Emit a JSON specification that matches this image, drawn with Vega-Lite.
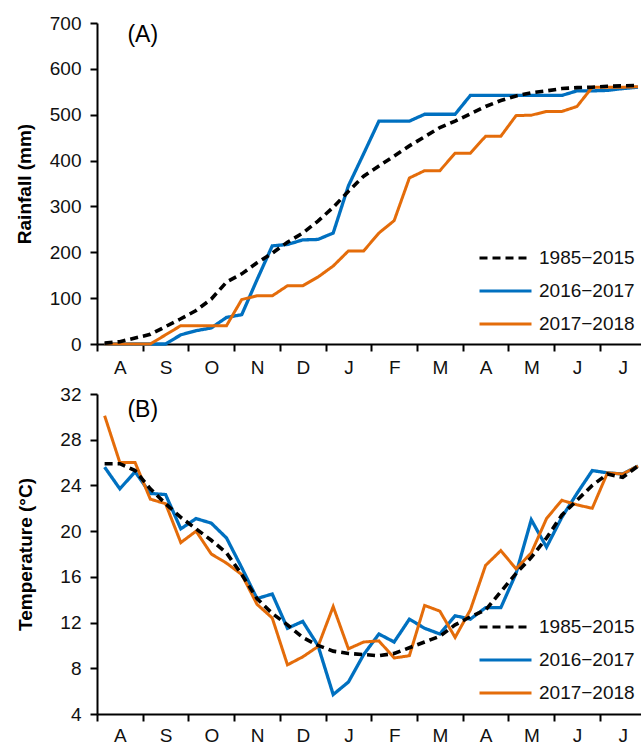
{
  "$schema": "https://vega.github.io/schema/vega-lite/v6.json",
  "padding": {"left": 15, "top": 14, "right": 0, "bottom": 0},
  "background": "white",
  "spacing": 8,
  "config": {
    "font": "Liberation Sans",
    "view": {"stroke": null},
    "axis": {"domainColor": "#000", "domainWidth": 2, "tickColor": "#000", "tickWidth": 2, "tickSize": 7, "labelColor": "#111", "labelFontSize": 19, "labelFont": "Liberation Sans", "titleFont": "Liberation Sans", "titleFontSize": 19, "titleFontWeight": "bold", "titleColor": "#000", "grid": false},
    "legend": {"symbolType": "stroke", "symbolSize": 2704, "symbolStrokeWidth": 3, "labelFontSize": 19, "labelColor": "#111", "labelFont": "Liberation Sans", "clipHeight": 20, "rowPadding": 13, "labelOffset": 6, "padding": 0}
  },
  "datasets": {
    "d": [
      {"series":"2016−2017","dekad":1,"rainfall":0,"temperature":25.6},
      {"series":"2016−2017","dekad":2,"rainfall":0,"temperature":23.7},
      {"series":"2016−2017","dekad":3,"rainfall":0,"temperature":25.2},
      {"series":"2016−2017","dekad":4,"rainfall":0,"temperature":23.3},
      {"series":"2016−2017","dekad":5,"rainfall":0,"temperature":23.2},
      {"series":"2016−2017","dekad":6,"rainfall":20,"temperature":20.2},
      {"series":"2016−2017","dekad":7,"rainfall":29,"temperature":21.1},
      {"series":"2016−2017","dekad":8,"rainfall":35,"temperature":20.7},
      {"series":"2016−2017","dekad":9,"rainfall":58,"temperature":19.4},
      {"series":"2016−2017","dekad":10,"rainfall":64,"temperature":16.8},
      {"series":"2016−2017","dekad":11,"rainfall":140,"temperature":14.1},
      {"series":"2016−2017","dekad":12,"rainfall":214,"temperature":14.5},
      {"series":"2016−2017","dekad":13,"rainfall":217,"temperature":11.5},
      {"series":"2016−2017","dekad":14,"rainfall":227,"temperature":12.1},
      {"series":"2016−2017","dekad":15,"rainfall":228,"temperature":10.0},
      {"series":"2016−2017","dekad":16,"rainfall":242,"temperature":5.7},
      {"series":"2016−2017","dekad":17,"rainfall":345,"temperature":6.8},
      {"series":"2016−2017","dekad":18,"rainfall":415,"temperature":9.2},
      {"series":"2016−2017","dekad":19,"rainfall":486,"temperature":11.0},
      {"series":"2016−2017","dekad":20,"rainfall":486,"temperature":10.3},
      {"series":"2016−2017","dekad":21,"rainfall":486,"temperature":12.3},
      {"series":"2016−2017","dekad":22,"rainfall":501,"temperature":11.5},
      {"series":"2016−2017","dekad":23,"rainfall":501,"temperature":11.0},
      {"series":"2016−2017","dekad":24,"rainfall":501,"temperature":12.6},
      {"series":"2016−2017","dekad":25,"rainfall":542,"temperature":12.3},
      {"series":"2016−2017","dekad":26,"rainfall":542,"temperature":13.3},
      {"series":"2016−2017","dekad":27,"rainfall":542,"temperature":13.3},
      {"series":"2016−2017","dekad":28,"rainfall":542,"temperature":16.3},
      {"series":"2016−2017","dekad":29,"rainfall":542,"temperature":21.0},
      {"series":"2016−2017","dekad":30,"rainfall":542,"temperature":18.6},
      {"series":"2016−2017","dekad":31,"rainfall":542,"temperature":21.2},
      {"series":"2016−2017","dekad":32,"rainfall":552,"temperature":23.3},
      {"series":"2016−2017","dekad":33,"rainfall":552,"temperature":25.3},
      {"series":"2016−2017","dekad":34,"rainfall":553,"temperature":25.1},
      {"series":"2016−2017","dekad":35,"rainfall":557,"temperature":25.0},
      {"series":"2016−2017","dekad":36,"rainfall":560,"temperature":25.7},
      {"series":"2017−2018","dekad":1,"rainfall":0,"temperature":30.1},
      {"series":"2017−2018","dekad":2,"rainfall":0,"temperature":26.0},
      {"series":"2017−2018","dekad":3,"rainfall":0,"temperature":26.0},
      {"series":"2017−2018","dekad":4,"rainfall":0,"temperature":22.8},
      {"series":"2017−2018","dekad":5,"rainfall":20,"temperature":22.4},
      {"series":"2017−2018","dekad":6,"rainfall":40,"temperature":19.0},
      {"series":"2017−2018","dekad":7,"rainfall":40,"temperature":20.0},
      {"series":"2017−2018","dekad":8,"rainfall":40,"temperature":18.0},
      {"series":"2017−2018","dekad":9,"rainfall":40,"temperature":17.2},
      {"series":"2017−2018","dekad":10,"rainfall":97,"temperature":16.2},
      {"series":"2017−2018","dekad":11,"rainfall":105,"temperature":13.6},
      {"series":"2017−2018","dekad":12,"rainfall":105,"temperature":12.4},
      {"series":"2017−2018","dekad":13,"rainfall":127,"temperature":8.3},
      {"series":"2017−2018","dekad":14,"rainfall":127,"temperature":9.0},
      {"series":"2017−2018","dekad":15,"rainfall":146,"temperature":9.9},
      {"series":"2017−2018","dekad":16,"rainfall":170,"temperature":13.4},
      {"series":"2017−2018","dekad":17,"rainfall":203,"temperature":9.7},
      {"series":"2017−2018","dekad":18,"rainfall":203,"temperature":10.3},
      {"series":"2017−2018","dekad":19,"rainfall":242,"temperature":10.4},
      {"series":"2017−2018","dekad":20,"rainfall":269,"temperature":8.9},
      {"series":"2017−2018","dekad":21,"rainfall":362,"temperature":9.1},
      {"series":"2017−2018","dekad":22,"rainfall":378,"temperature":13.5},
      {"series":"2017−2018","dekad":23,"rainfall":378,"temperature":13.0},
      {"series":"2017−2018","dekad":24,"rainfall":416,"temperature":10.7},
      {"series":"2017−2018","dekad":25,"rainfall":416,"temperature":13.1},
      {"series":"2017−2018","dekad":26,"rainfall":453,"temperature":17.0},
      {"series":"2017−2018","dekad":27,"rainfall":453,"temperature":18.3},
      {"series":"2017−2018","dekad":28,"rainfall":498,"temperature":16.7},
      {"series":"2017−2018","dekad":29,"rainfall":499,"temperature":18.1},
      {"series":"2017−2018","dekad":30,"rainfall":507,"temperature":21.1},
      {"series":"2017−2018","dekad":31,"rainfall":507,"temperature":22.7},
      {"series":"2017−2018","dekad":32,"rainfall":518,"temperature":22.3},
      {"series":"2017−2018","dekad":33,"rainfall":560,"temperature":22.0},
      {"series":"2017−2018","dekad":34,"rainfall":560,"temperature":25.1},
      {"series":"2017−2018","dekad":35,"rainfall":560,"temperature":25.0},
      {"series":"2017−2018","dekad":36,"rainfall":561,"temperature":25.7},
      {"series":"1985−2015","dekad":1,"rainfall":2,"temperature":25.9},
      {"series":"1985−2015","dekad":2,"rainfall":5,"temperature":25.9},
      {"series":"1985−2015","dekad":3,"rainfall":13,"temperature":25.3},
      {"series":"1985−2015","dekad":4,"rainfall":21,"temperature":23.7},
      {"series":"1985−2015","dekad":5,"rainfall":38,"temperature":22.4},
      {"series":"1985−2015","dekad":6,"rainfall":55,"temperature":21.2},
      {"series":"1985−2015","dekad":7,"rainfall":73,"temperature":20.2},
      {"series":"1985−2015","dekad":8,"rainfall":98,"temperature":19.2},
      {"series":"1985−2015","dekad":9,"rainfall":135,"temperature":18.1},
      {"series":"1985−2015","dekad":10,"rainfall":153,"temperature":16.2},
      {"series":"1985−2015","dekad":11,"rainfall":177,"temperature":14.1},
      {"series":"1985−2015","dekad":12,"rainfall":198,"temperature":12.8},
      {"series":"1985−2015","dekad":13,"rainfall":222,"temperature":11.8},
      {"series":"1985−2015","dekad":14,"rainfall":242,"temperature":10.7},
      {"series":"1985−2015","dekad":15,"rainfall":268,"temperature":10.0},
      {"series":"1985−2015","dekad":16,"rainfall":298,"temperature":9.5},
      {"series":"1985−2015","dekad":17,"rainfall":333,"temperature":9.3},
      {"series":"1985−2015","dekad":18,"rainfall":366,"temperature":9.2},
      {"series":"1985−2015","dekad":19,"rainfall":388,"temperature":9.1},
      {"series":"1985−2015","dekad":20,"rainfall":410,"temperature":9.3},
      {"series":"1985−2015","dekad":21,"rainfall":432,"temperature":9.8},
      {"series":"1985−2015","dekad":22,"rainfall":452,"temperature":10.3},
      {"series":"1985−2015","dekad":23,"rainfall":472,"temperature":10.8},
      {"series":"1985−2015","dekad":24,"rainfall":486,"temperature":11.8},
      {"series":"1985−2015","dekad":25,"rainfall":502,"temperature":12.5},
      {"series":"1985−2015","dekad":26,"rainfall":518,"temperature":13.1},
      {"series":"1985−2015","dekad":27,"rainfall":531,"temperature":14.7},
      {"series":"1985−2015","dekad":28,"rainfall":541,"temperature":16.3},
      {"series":"1985−2015","dekad":29,"rainfall":548,"temperature":17.7},
      {"series":"1985−2015","dekad":30,"rainfall":552,"temperature":19.4},
      {"series":"1985−2015","dekad":31,"rainfall":557,"temperature":21.4},
      {"series":"1985−2015","dekad":32,"rainfall":559,"temperature":22.7},
      {"series":"1985−2015","dekad":33,"rainfall":560,"temperature":24.0},
      {"series":"1985−2015","dekad":34,"rainfall":562,"temperature":25.0},
      {"series":"1985−2015","dekad":35,"rainfall":563,"temperature":24.7},
      {"series":"1985−2015","dekad":36,"rainfall":564,"temperature":25.7}
    ]
  },
  "vconcat": [
    {
      "width": 544,
      "height": 321,
      "layer": [
        {
          "data": {"name": "d"},
          "mark": {"type": "line"},
          "encoding": {
            "x": {"field": "dekad", "type": "quantitative", "scale": {"domain": [0.5, 36.2], "nice": false, "zero": false},
                  "axis": {"title": null, "values": [0.5,3.5,6.5,9.5,12.5,15.5,18.5,21.5,24.5,27.5,30.5,33.5],
                           "labelExpr": "substring('ASONDJFMAMJJ', round((datum.value - 0.5) / 3), round((datum.value - 0.5) / 3) + 1)",
                           "labelOffset": 22.9, "labelAlign": "center",
                           "labelOverlap": false, "labelBound": false, "labelFlush": false, "labelPadding": 7}},
            "y": {"field": "rainfall", "type": "quantitative", "scale": {"domain": [0, 700], "nice": false},
                  "axis": {"title": "Rainfall (mm)", "values": [0,100,200,300,400,500,600,700], "titlePadding": 15, "labelPadding": 9}},
            "color": {"field": "series", "type": "nominal",
                      "scale": {"domain": ["1985−2015", "2016−2017", "2017−2018"], "range": ["#000000", "#0070C0", "#E46C0A"]},
                      "legend": {"title": null, "orient": "none", "legendX": 381, "legendY": 225}},
            "strokeDash": {"field": "series", "type": "nominal",
                           "scale": {"domain": ["1985−2015", "2016−2017", "2017−2018"], "range": [[8, 5], [1, 0], [1, 0]]},
                           "legend": {"title": null, "orient": "none", "legendX": 381, "legendY": 225}},
            "strokeWidth": {"field": "series", "type": "nominal",
                            "scale": {"domain": ["1985−2015", "2016−2017", "2017−2018"], "range": [3.6, 3, 3]}, "legend": null}
          }
        },
        {
          "data": {"values": [{"panel": "(A)", "px": 3.5, "py": 673}]},
          "mark": {"type": "text", "fontSize": 23, "font": "Liberation Sans", "color": "#000"},
          "encoding": {"x": {"field": "px", "type": "quantitative"}, "y": {"field": "py", "type": "quantitative"}, "text": {"field": "panel"}}
        }
      ]
    },
    {
      "width": 544,
      "height": 320,
      "layer": [
        {
          "data": {"name": "d"},
          "mark": {"type": "line"},
          "encoding": {
            "x": {"field": "dekad", "type": "quantitative", "scale": {"domain": [0.5, 36.2], "nice": false, "zero": false},
                  "axis": {"title": null, "values": [0.5,3.5,6.5,9.5,12.5,15.5,18.5,21.5,24.5,27.5,30.5,33.5],
                           "labelExpr": "substring('ASONDJFMAMJJ', round((datum.value - 0.5) / 3), round((datum.value - 0.5) / 3) + 1)",
                           "labelOffset": 22.9, "labelAlign": "center",
                           "labelOverlap": false, "labelBound": false, "labelFlush": false, "labelPadding": 5}},
            "y": {"field": "temperature", "type": "quantitative", "scale": {"domain": [4, 32], "nice": false, "zero": false},
                  "axis": {"title": "Temperature (°C)", "values": [4,8,12,16,20,24,28,32], "titlePadding": 24, "labelPadding": 9}},
            "color": {"field": "series", "type": "nominal",
                      "scale": {"domain": ["1985−2015", "2016−2017", "2017−2018"], "range": ["#000000", "#0070C0", "#E46C0A"]},
                      "legend": {"title": null, "orient": "none", "legendX": 381, "legendY": 223}},
            "strokeDash": {"field": "series", "type": "nominal",
                           "scale": {"domain": ["1985−2015", "2016−2017", "2017−2018"], "range": [[8, 5], [1, 0], [1, 0]]},
                           "legend": {"title": null, "orient": "none", "legendX": 381, "legendY": 223}},
            "strokeWidth": {"field": "series", "type": "nominal",
                            "scale": {"domain": ["1985−2015", "2016−2017", "2017−2018"], "range": [3.6, 3, 3]}, "legend": null}
          }
        },
        {
          "data": {"values": [{"panel": "(B)", "px": 3.5, "py": 30.6}]},
          "mark": {"type": "text", "fontSize": 23, "font": "Liberation Sans", "color": "#000"},
          "encoding": {"x": {"field": "px", "type": "quantitative"}, "y": {"field": "py", "type": "quantitative"}, "text": {"field": "panel"}}
        }
      ]
    }
  ],
  "resolve": {"legend": {"color": "independent", "strokeDash": "independent"}}
}
